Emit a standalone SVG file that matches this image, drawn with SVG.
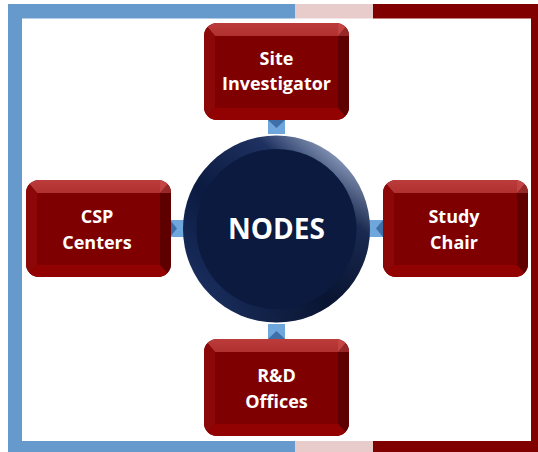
<svg xmlns="http://www.w3.org/2000/svg" xmlns:xlink="http://www.w3.org/1999/xlink" width="538" height="452" viewBox="0 0 538 452">
<style>
.lbl{font-family:"Open Sans","Liberation Sans",sans-serif;font-weight:bold;fill:#FFFFFF;text-anchor:middle;font-size:18px}
.big{font-family:"Open Sans","Liberation Sans",sans-serif;font-weight:bold;fill:#FFFFFF;text-anchor:middle;font-size:28px}
.conn{fill:#6FA6DC}
.tri{fill:#3F6FA8}
</style>
<defs>
<clipPath id="bc"><rect x="0" y="0" width="145" height="97" rx="13" ry="13"/></clipPath>
<linearGradient id="topg" x1="0" y1="0" x2="0" y2="1">
<stop offset="0" stop-color="#BC3C3C"/><stop offset="1" stop-color="#B03030"/>
</linearGradient>
<g id="box">
<g clip-path="url(#bc)">
<rect x="0" y="0" width="145" height="97" fill="#800000"/>
<polygon points="0,0 145,0 134,13 11,13" fill="url(#topg)"/>
<polygon points="0,0 11,13 11,85 0,97" fill="#8C0707"/>
<polygon points="145,0 134,13 134,85 145,97" fill="#5E0000"/>
<polygon points="0,97 11,85 134,85 145,97" fill="#930202"/>
<polygon points="134,0 145,0 145,13 134,13" fill="#D05050" opacity="0.5"/>
<rect x="11" y="13" width="123" height="72" fill="#7F0000"/>
</g>
</g>
<linearGradient id="ring" x1="0.85" y1="0.1" x2="0.15" y2="0.9">
<stop offset="0" stop-color="#8E9DBC"/>
<stop offset="0.22" stop-color="#1E3160"/>
<stop offset="0.6" stop-color="#0B1A40"/>
<stop offset="1" stop-color="#1A2E5E"/>
</linearGradient>
<linearGradient id="ring2" x1="0" y1="0" x2="1" y2="1">
<stop offset="0.5" stop-color="#000000" stop-opacity="0"/>
<stop offset="1" stop-color="#000000" stop-opacity="0.35"/>
</linearGradient>
</defs>

<g id="frame">
<rect x="8" y="4" width="287" height="448" fill="#6699CC"/>
<rect x="295" y="4" width="78" height="448" fill="#E8CCCC"/>
<rect x="373" y="4" width="165" height="448" fill="#800000"/>
<rect x="22" y="18.5" width="509" height="422.5" fill="#FFFFFF"/>
</g>

<g id="connectors">
<rect class="conn" x="268" y="119" width="17" height="15"/>
<polygon class="tri" points="268,120 285,120 276.5,128"/>
<rect class="conn" x="268" y="324" width="17" height="16"/>
<polygon class="tri" points="268,339 285,339 276.5,331"/>
<rect class="conn" x="168" y="220" width="16" height="17"/>
<polygon class="tri" points="170,220 170,237 177,228.5"/>
<rect class="conn" x="369" y="220" width="15" height="17"/>
<polygon class="tri" points="383,220 383,237 376,228.5"/>
</g>

<g id="nodes-center">
<circle cx="276.5" cy="229" r="93.5" fill="url(#ring)"/>
<circle cx="276.5" cy="229" r="93.5" fill="url(#ring2)"/>
<circle cx="276.5" cy="229" r="80" fill="#0B1A3E"/>
<text class="big" x="276.5" y="239">NODES</text>
</g>

<g id="site-investigator">
<use xlink:href="#box" x="204" y="23"/>
<text class="lbl" x="276.5" y="65">Site</text>
<text class="lbl" x="276.5" y="90">Investigator</text>
</g>

<g id="csp-centers">
<use xlink:href="#box" x="26" y="180"/>
<text class="lbl" x="97" y="223">CSP</text>
<text class="lbl" x="97" y="249">Centers</text>
</g>

<g id="study-chair">
<use xlink:href="#box" x="383" y="180"/>
<text class="lbl" x="454" y="223">Study</text>
<text class="lbl" x="454" y="249">Chair</text>
</g>

<g id="rd-offices">
<use xlink:href="#box" x="204" y="339"/>
<text class="lbl" x="276.5" y="382">R&amp;D</text>
<text class="lbl" x="276.5" y="408">Offices</text>
</g>
</svg>
